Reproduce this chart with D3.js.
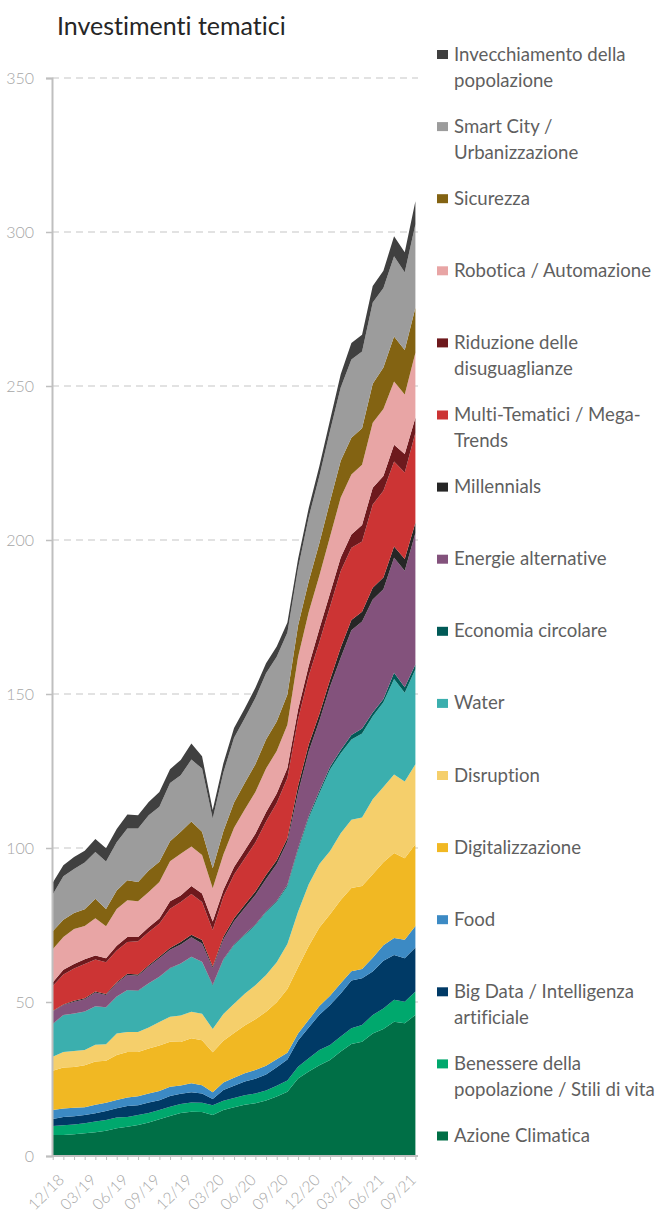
<!DOCTYPE html>
<html>
<head>
<meta charset="utf-8">
<script src="https://cdn.jsdelivr.net/npm/d3@7/dist/d3.min.js"></script>
<style>
  body { margin: 0; background: #fff; }
  text { font-family: "Lato", "Open Sans", sans-serif; font-variant-ligatures: none; }
</style>
</head>
<body>
<div id="graph"></div>
<script>
"use strict";

let width = 664,
    height = 1212;

const months = ["12/18","01/19","02/19","03/19","04/19","05/19","06/19","07/19","08/19","09/19","10/19","11/19",
                "12/19","01/20","02/20","03/20","04/20","05/20","06/20","07/20","08/20","09/20","10/20","11/20",
                "12/20","01/21","02/21","03/21","04/21","05/21","06/21","07/21","08/21","09/21","10/21"];
const tickLabels = ["12/18","03/19","06/19","09/19","12/19","03/20","06/20","09/20","12/20","03/21","06/21","09/21"];
const yTicks = [0, 50, 100, 150, 200, 250, 300, 350];

// one array per theme, bottom of the stack first
const azione      = [6.8,6.8,7.1,7.4,7.7,8.2,9.0,9.5,10.1,10.9,11.9,13.0,14.0,14.4,14.3,13.3,14.9,15.8,16.6,17.1,18.0,19.3,20.9,25.2,27.4,29.5,31.2,33.9,36.4,37.1,39.8,41.2,43.6,43.1,45.8];
const benessere   = [2.9,3.2,3.1,3.2,3.5,3.5,3.5,3.2,3.2,3.1,3.0,3.0,2.9,3.0,3.0,3.2,3.0,3.0,3.1,3.2,3.3,3.5,3.6,3.8,4.3,4.9,4.8,4.9,5.1,5.4,6.0,6.7,7.1,7.0,7.6];
const bigData     = [2.3,2.7,2.7,2.7,2.7,2.9,3.0,3.5,3.2,3.4,3.2,3.5,3.3,3.3,3.0,2.0,3.5,4.0,4.5,4.8,5.2,6.0,6.8,8.5,10.0,11.5,13.0,14.0,15.5,15.2,14.1,15.5,14.6,14.1,14.3];
const food        = [2.9,2.7,2.8,2.5,2.7,2.7,2.7,2.8,2.9,2.9,3.0,3.0,2.7,2.9,2.7,2.2,2.5,2.6,2.7,2.8,2.8,2.6,2.2,2.3,2.5,2.8,3.0,3.3,3.0,3.0,4.5,5.0,5.5,6.0,7.0];
const digital     = [12.8,13.3,13.2,13.7,14.1,13.6,14.6,14.8,14.4,14.6,14.8,14.6,14.1,14.6,14.6,13.0,13.5,14.5,15.5,16.5,17.5,18.5,20.7,21.5,24.0,25.5,26.5,27.0,27.0,27.0,27.1,27.0,27.6,26.5,26.5];
const disruption  = [4.5,5.1,5.2,4.9,5.4,5.4,7.0,6.5,6.5,6.8,7.6,8.1,8.6,8.6,8.6,7.5,8.7,9.5,10.3,11.0,12.0,13.0,14.6,18.0,20.0,20.6,20.5,21.7,22.2,22.2,24.3,24.4,25.5,24.9,26.0];
const water       = [10.6,11.9,12.1,12.4,12.4,11.9,11.9,13.5,13.3,14.3,14.6,15.7,16.8,17.8,16.8,14.1,17.5,19.0,19.0,19.5,20.3,19.6,18.8,20.0,21.5,23.0,26.5,26.0,26.0,27.3,27.0,27.5,31.0,28.8,30.8];
const economia    = [0.1,0.1,0.1,0.1,0.1,0.1,0.1,0.1,0.1,0.1,0.1,0.1,0.1,0.1,0.1,0.3,0.3,0.3,0.3,0.3,0.3,0.3,0.5,0.6,0.7,0.8,0.9,1.0,1.5,1.6,1.2,1.1,2.0,1.8,1.6];
const energie     = [4.0,3.2,3.8,4.0,4.5,4.0,4.3,4.9,4.8,5.4,6.0,6.0,6.2,6.3,5.9,5.4,6.5,7.5,8.5,9.5,10.5,12.0,14.0,18.1,21.0,22.7,26.0,30.0,34.0,34.7,36.7,35.6,37.3,37.8,42.7];
const millennials = [0.2,0.2,0.3,0.3,0.3,0.3,0.3,0.4,0.4,0.4,0.5,0.5,0.8,0.8,1.1,0.5,0.8,1.0,1.1,1.2,1.3,1.2,1.1,2.1,2.2,2.2,2.2,3.3,3.3,3.2,3.8,3.8,3.7,3.8,3.3];
const multi       = [8.1,9.7,10.5,11.1,10.4,10.3,10.3,10.3,10.8,10.8,10.8,12.8,13.0,13.3,12.4,11.9,13.0,14.2,15.0,15.9,17.4,18.6,19.5,21.7,22.3,23.4,23.8,24.8,23.5,22.8,27.0,28.2,27.6,28.1,29.2];
const riduzione   = [1.1,1.6,1.4,1.6,1.3,1.3,1.6,1.6,1.4,1.6,1.6,2.4,2.1,2.6,2.7,2.7,2.2,2.4,2.6,2.8,3.0,3.1,3.3,3.2,3.3,4.3,4.3,4.4,4.3,5.4,5.5,4.8,5.4,6.0,4.9];
const robotica    = [10.8,10.6,11.4,10.8,12.1,10.4,11.9,11.9,11.6,11.4,11.9,13.0,13.5,12.8,12.5,10.8,11.5,12.8,13.3,13.6,14.2,13.8,14.0,17.0,17.4,17.3,18.4,19.5,19.5,19.5,21.1,21.7,20.6,19.3,21.1];
const sicurezza   = [5.9,5.6,5.2,5.4,6.3,5.6,6.0,6.5,6.3,7.0,6.5,6.5,7.2,8.1,7.6,6.5,7.5,8.2,8.6,9.0,9.4,9.6,9.8,10.2,10.0,10.5,11.5,11.9,11.9,11.9,12.6,13.5,14.6,14.5,14.6];
const smartCity   = [11.9,14.1,14.3,15.2,15.2,15.4,15.7,16.8,17.3,17.9,17.9,18.9,18.3,20.1,20.5,16.2,19.1,21.0,21.0,21.5,21.5,21.0,20.2,18.6,20.8,21.8,22.9,23.8,25.4,24.9,26.4,25.8,26.0,25.2,27.1];
const invecchiam  = [3.8,3.6,3.9,3.8,4.2,4.3,4.3,4.6,4.3,4.3,4.8,4.5,5.0,5.2,4.0,2.7,3.0,3.2,3.2,3.3,3.3,3.3,3.2,3.0,3.0,3.2,3.5,4.3,5.4,5.4,5.4,5.6,6.5,6.5,7.5];

const seriesNames = ["Azione Climatica", "Benessere della popolazione / Stili di vita", "Big Data / Intelligenza artificiale",
    "Food", "Digitalizzazione", "Disruption", "Water", "Economia circolare", "Energie alternative", "Millennials",
    "Multi-Tematici / Mega-Trends", "Riduzione delle disuguaglianze", "Robotica / Automazione", "Sicurezza",
    "Smart City / Urbanizzazione", "Invecchiamento della popolazione"];
const seriesValues = [azione, benessere, bigData, food, digital, disruption, water, economia, energie, millennials,
    multi, riduzione, robotica, sicurezza, smartCity, invecchiam];
const colors = ["#006f46", "#00a86d", "#003a66", "#3c8ac4", "#f1b823", "#f5cf6b", "#3bafae", "#015a57", "#83527c",
    "#262626", "#cc3434", "#6e191d", "#e8a5a5", "#836312", "#9c9c9c", "#404040"];
// legend lines, top entry first
const legendLines = [
    ["Invecchiamento della", "popolazione"],
    ["Smart City /", "Urbanizzazione"],
    ["Sicurezza"],
    ["Robotica / Automazione"],
    ["Riduzione delle", "disuguaglianze"],
    ["Multi-Tematici / Mega-", "Trends"],
    ["Millennials"],
    ["Energie alternative"],
    ["Economia circolare"],
    ["Water"],
    ["Disruption"],
    ["Digitalizzazione"],
    ["Food"],
    ["Big Data / Intelligenza", "artificiale"],
    ["Benessere della", "popolazione / Stili di vita"],
    ["Azione Climatica"]
];

const margin = { left: 52, right: 248, top: 78, bottom: 56 };

window.onload = function () {
    let svg = d3.select("#graph")
        .append("svg")
        .attr("width", width)
        .attr("height", height);

    // rows for the stack
    let table = months.map((m, i) => {
        let row = { month: m };
        seriesNames.forEach((name, k) => { row[name] = seriesValues[k][i]; });
        return row;
    });

    let x = d3.scalePoint()
        .domain(months)
        .range([52.7, 415.4]);

    let y = d3.scaleLinear()
        .domain([0, 350])
        .range([height - margin.bottom, margin.top]);

    let stacked = d3.stack().keys(seriesNames)(table);

    // gridlines
    svg.append("g")
        .selectAll("line")
        .data(yTicks.filter(d => d > 0))
        .enter()
        .append("line")
        .attr("x1", 52)
        .attr("x2", 418)
        .attr("y1", d => y(d))
        .attr("y2", d => y(d))
        .attr("stroke", "#d9d9d9")
        .attr("stroke-width", 1.5)
        .attr("stroke-dasharray", "7,5");

    let area = d3.area()
        .x(d => x(d.data.month))
        .y0(d => y(d[0]))
        .y1(d => y(d[1]));

    svg.append("g")
        .selectAll("path")
        .data(stacked)
        .enter()
        .append("path")
        .attr("fill", (d, i) => colors[i])
        .attr("d", area);

    // y axis
    let yAxis = svg.append("g")
        .attr("transform", "translate(52,0)")
        .call(d3.axisLeft(y).tickValues(yTicks).tickSize(6).tickPadding(12));
    yAxis.select(".domain").attr("stroke", "#bfbfbf").attr("stroke-width", 2);
    yAxis.selectAll(".tick line").attr("stroke", "#bfbfbf").attr("stroke-width", 1.5);
    yAxis.selectAll(".tick text")
        .attr("fill", "#a6a6a6")
        .style("font-size", "16px")
        .style("font-weight", 300);

    // x axis
    let xAxis = svg.append("g")
        .attr("transform", "translate(0," + y(0) + ")")
        .call(d3.axisBottom(x).tickSize(4).tickFormat(d => tickLabels.includes(d) ? d : ""));
    xAxis.select(".domain").attr("stroke", "#bfbfbf").attr("stroke-width", 2)
        .attr("d", "M52,0H418");
    xAxis.selectAll(".tick line").attr("stroke", "#bfbfbf").attr("stroke-width", 1);
    xAxis.selectAll(".tick text")
        .attr("fill", "#a6a6a6")
        .style("font-size", "15.5px")
        .style("font-weight", 300)
        .attr("text-anchor", "end")
        .attr("dy", "0.35em")
        .attr("transform", "translate(3,16) rotate(-45)");

    // title
    svg.append("text")
        .attr("x", 57)
        .attr("y", 35)
        .attr("fill", "#262626")
        .style("font-size", "25px")
        .text("Investimenti tematici");

    // legend
    let legend = svg.append("g").attr("transform", "translate(437,0)");
    legendLines.forEach((lines, i) => {
        let cy = 54 + i * 72.1;
        let g = legend.append("g");
        g.append("rect")
            .attr("x", 0)
            .attr("y", cy - 4)
            .attr("width", 11)
            .attr("height", 9)
            .attr("fill", colors[colors.length - 1 - i]);
        lines.forEach((t, j) => {
            g.append("text")
                .attr("x", 17)
                .attr("y", cy + j * 26)
                .attr("dy", "0.35em")
                .attr("fill", "#5f5f5f")
                .style("font-size", "18.6px")
                .text(t);
        });
    });
}
</script>
</body>
</html>
